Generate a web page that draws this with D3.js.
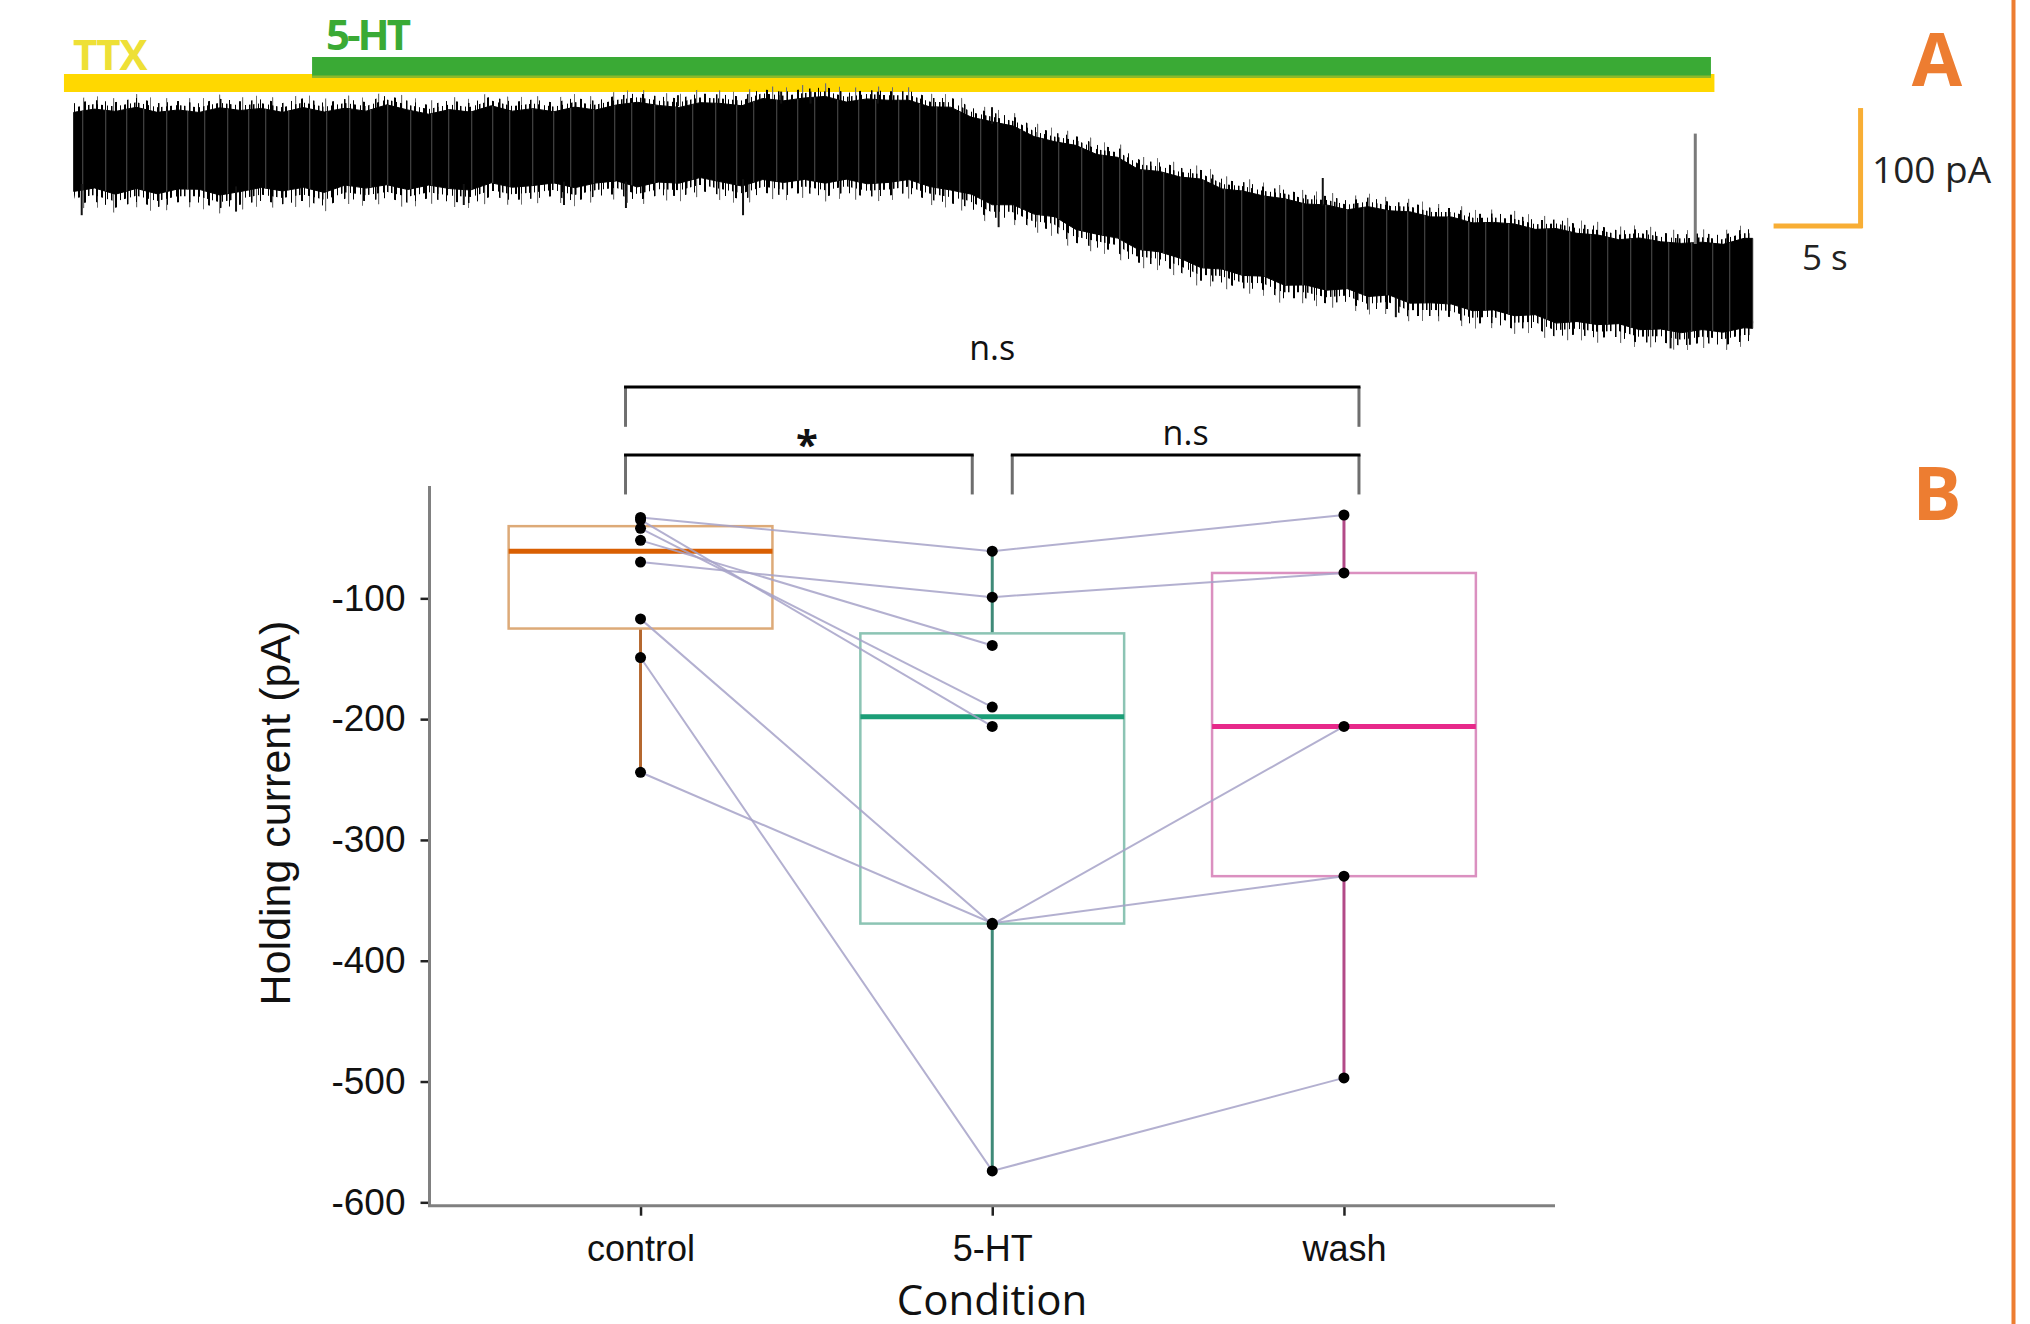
<!DOCTYPE html>
<html>
<head>
<meta charset="utf-8">
<script src="https://cdn.jsdelivr.net/npm/d3@7"></script>
<style>
  body { margin: 0; background: #fff; }
  svg { display: block; }
</style>
</head>
<body>
<svg id="chart" width="2030" height="1324"></svg>
<script>
// ---------- panel A: holding current trace (envelope) ----------
var traceTime = [0, 1.2, 2.4, 3.6, 4.8, 6, 7.2, 8.4, 9.6, 10.8, 12, 13.2, 14.4, 15.6, 16.8, 18, 19.2, 20.4, 21.6, 22.8,
    24, 25.2, 26.4, 27.6, 28.8, 30, 31.2, 32.4, 33.6, 34.8, 36, 37.2, 38.4, 39.6, 40.8, 42, 43.2, 44.4, 45.6, 46.8,
    48, 49.2, 50.4, 51.6, 52.8, 54, 55.2, 56.4, 57.6, 58.8, 60, 61.2, 62.4, 63.6, 64.8, 66, 67.2, 68.4, 69.6, 70.8,
    72, 73.2, 74.4, 75.6, 76.8, 78, 79.2, 80.4, 81.6, 82.8, 84, 85.2, 86.4, 87.6, 88.8, 90, 91.2, 92.4, 93.6, 94.8,
    96, 96.5];
var traceUpper = [-10.3, -7.6, -9.5, -6.1, -10.3, -8.3, -10.4, -6.5, -8.7, -7,
    -10.3, -6.3, -10, -6.8, -9.3, -4, -8.3, -11.8, -8, -10.1,
    -4.8, -9.3, -7.2, -9.8, -5.9, -8.3, -4.1, -1.9, -4.5, -6.2,
    -2.2, -2.9, -4.8, 1.3, -0.7, 1.7, 3, -1.7, 0.9, -0.2,
    -0.2, -5.7, -6, -14.4, -18.2, -21.7, -30.5, -34.8, -37.8, -45.4,
    -47.8, -57.9, -59.5, -64.2, -65.9, -74.1, -75.9, -80, -82.3, -86.7,
    -87.4, -91.5, -88.9, -92.3, -93.2, -97.4, -97.5, -102.4, -102, -103.3,
    -107.8, -107.1, -111.1, -112.5, -116.4, -115, -118.1, -119.5, -118.5, -120.3,
    -115.3, -115.3];
var traceLower = [-76.2, -73.3, -78.5, -73.7, -78.2, -74.1, -74.4, -79.2, -76.2, -72.9,
    -75.8, -72.8, -77, -70.9, -73.4, -70.6, -74.6, -70.9, -73.8, -75,
    -69, -72.7, -71.3, -69.1, -73.1, -69.2, -67.4, -72.4, -68.4, -69.3,
    -64.6, -68.2, -71.7, -66.3, -68.7, -66.2, -69.3, -66, -69.8, -68.7,
    -66.3, -72.1, -75, -78.5, -87.3, -87.3, -95.1, -97.3, -107.9, -111.8,
    -115.1, -124.6, -126.5, -131.9, -139.8, -140.9, -146.2, -146.8, -154.4, -154.1,
    -158.5, -157.2, -163.8, -162.4, -169.3, -169, -170.1, -175.6, -174.9, -179.8,
    -178.9, -185.9, -184.6, -187.2, -186.4, -191.4, -190.8, -193.9, -191.3, -193.5,
    -189.8, -190.3];

// single events poking out of the band
var spikeTime = [0.46, 9.33, 22.42, 28.18, 31.74, 38.47, 34.73, 40.66, 42.35, 46.22, 53.16, 52.78, 71.79, 75.99, 91.78, 92.89];
var spikeFrom = [-70, -72, -70, -68, -68, -66, -5, -3, -3, -3, -88, -20, -88, -165, -192, -192];
var spikeTo = [-96, -93, -87.5, -87.5, -90, -96, 4, 7, 7, 7, -106, -6, -65, -181, -207, -204];
var bigSpike = { t: 93.2, from: -120, to: -28 };

// drug application bars (s)
var drugNames = ["TTX", "5-HT"];
var drugStart = [-0.56, 13.7];
var drugEnd = [94.3, 94.1];

// scale bar: 5 s, 100 pA
var scaleBarTime = [97.7, 102.7];
var scaleBarCurrent = [-6.7, -106.7];

// ---------- panel B: paired holding currents (pA), one entry per cell ----------
var conditions = ["control", "5-HT", "wash"];
var controlValues = [-33, -35, -42, -52, -70, -117, -149, -244];
var serotoninValues = [-61, -206, -190, -139, -99, -370, -574, -369];
var washValues = [-31, null, null, null, -79, -206, -497, -330];
var yTicks = [-100, -200, -300, -400, -500, -600];

var compFrom = ["control", "control", "5-HT"];
var compTo = ["wash", "5-HT", "wash"];
var compLabel = ["n.s", "*", "n.s"];
var compLevel = [75, 18.6, 18.6];
var compFoot = [42, -14, -14];

var svg = d3.select("#chart");
svg.append("rect").attr("width", 2030).attr("height", 1324).attr("fill", "#fff");

var sans = "'Open Sans', 'DejaVu Sans', sans-serif";
var arial = "'Liberation Sans', Arial, sans-serif";

// vertical hatch patterns used to texture the noisy trace
var defs = svg.append("defs");
function hatch(id, period, stripes, color) {
    var p = defs.append("pattern")
        .attr("id", id)
        .attr("patternUnits", "userSpaceOnUse")
        .attr("width", period).attr("height", 1324);
    stripes.forEach(function (s) {
        p.append("rect").attr("x", s[0]).attr("y", 0)
            .attr("width", s[1]).attr("height", 1324).attr("fill", color);
    });
}
hatch("hairA", 23, [[0, 1.5], [5, 1], [9, 2], [15, 1], [19, 1.5]], "#000");
hatch("hairB", 31, [[3, 1.5], [12, 1], [22, 2]], "#000");
hatch("hairC", 53, [[7, 1.2], [30, 1.2], [44, 1]], "#6f6f6f");
hatch("sweep", 61, [[4, 1.3], [21, 1.3], [44, 1.3]], "#4d4d4d");

// ===== panel A =====
var xT = d3.scaleLinear().domain([0, 96.5]).range([73.7, 1752.7]);
var yT = d3.scaleLinear().domain([0, -100]).range([100, 220]);

var barColors = ["#FFD800", "#3AAA35"];
var barY = [74, 57], barH = [18, 20];
drugNames.forEach(function (name, i) {
    svg.append("rect")
        .attr("x", xT(drugStart[i]))
        .attr("y", barY[i])
        .attr("width", xT(drugEnd[i]) - xT(drugStart[i]))
        .attr("height", barH[i])
        .attr("fill", barColors[i]);
});
svg.append("rect")
    .attr("x", xT(drugStart[1])).attr("y", 75.5)
    .attr("width", xT(drugEnd[1]) - xT(drugStart[1])).attr("height", 2.5)
    .attr("fill", "#8DB92B");
svg.append("text").attr("x", xT(drugStart[0]) + 9).attr("y", 70)
    .attr("font-family", sans).attr("font-weight", 700).attr("font-size", 42)
    .attr("letter-spacing", -1).attr("fill", "#EEE036").text(drugNames[0]);
svg.append("text").attr("x", xT(drugStart[1]) + 14).attr("y", 50)
    .attr("font-family", sans).attr("font-weight", 700).attr("font-size", 42)
    .attr("letter-spacing", -3).attr("fill", "#3AAA35").text(drugNames[1]);

var traceData = traceTime.map(function (t, i) {
    return { t: t, hi: traceUpper[i], lo: traceLower[i] };
});
var area = d3.area()
    .x(function (d) { return xT(d.t); })
    .y0(function (d) { return yT(d.lo); })
    .y1(function (d) { return yT(d.hi); });
var edgeTop = d3.line()
    .x(function (d) { return xT(d.t); })
    .y(function (d) { return yT(d.hi); });
var edgeBottom = d3.line()
    .x(function (d) { return xT(d.t); })
    .y(function (d) { return yT(d.lo); });

var gTrace = svg.append("g");
// noise fringe: vertical hairs along both edges
function fringe(gen, pat, w) {
    gTrace.append("path").datum(traceData).attr("d", gen)
        .attr("fill", "none").attr("stroke", "url(#" + pat + ")").attr("stroke-width", w);
}
fringe(edgeTop, "hairC", 26);
fringe(edgeBottom, "hairC", 36);
fringe(edgeTop, "hairB", 18);
fringe(edgeBottom, "hairB", 26);
fringe(edgeTop, "hairA", 10);
fringe(edgeBottom, "hairA", 14);

gTrace.append("path").datum(traceData)
    .attr("d", area)
    .attr("fill", "#000")
    .attr("stroke", "#000")
    .attr("stroke-width", 1);
// lighter sweeps inside the band
gTrace.append("path").datum(traceData)
    .attr("d", area)
    .attr("fill", "url(#sweep)")
    .attr("transform", "translate(0,0)")
    .attr("opacity", 0.8);

gTrace.selectAll(".spike")
    .data(spikeTime)
    .enter().append("line")
    .attr("x1", function (d) { return xT(d); })
    .attr("x2", function (d) { return xT(d); })
    .attr("y1", function (d, i) { return yT(spikeFrom[i]); })
    .attr("y2", function (d, i) { return yT(spikeTo[i]); })
    .attr("stroke", "#111")
    .attr("stroke-width", 2);

gTrace.append("line")
    .attr("x1", xT(bigSpike.t)).attr("x2", xT(bigSpike.t))
    .attr("y1", yT(bigSpike.from)).attr("y2", yT(bigSpike.to))
    .attr("stroke", "#7a7a7a").attr("stroke-width", 3);

// scale bar
var barColor = "#F8AE35";
svg.append("line")
    .attr("x1", xT(scaleBarTime[0])).attr("x2", xT(scaleBarTime[1]) + 2)
    .attr("y1", yT(scaleBarCurrent[1]) - 2).attr("y2", yT(scaleBarCurrent[1]) - 2)
    .attr("stroke", barColor).attr("stroke-width", 5);
svg.append("line")
    .attr("x1", xT(scaleBarTime[1])).attr("x2", xT(scaleBarTime[1]))
    .attr("y1", yT(scaleBarCurrent[0])).attr("y2", yT(scaleBarCurrent[1]))
    .attr("stroke", barColor).attr("stroke-width", 5);
svg.append("text").attr("x", 1872).attr("y", 183)
    .attr("font-family", sans).attr("font-size", 37).attr("fill", "#222").text("100 pA");
svg.append("text").attr("x", 1802).attr("y", 270)
    .attr("font-family", sans).attr("font-size", 35).attr("fill", "#222").text("5 s");

// panel letters and frame line
svg.append("line").attr("x1", 2013.5).attr("x2", 2013.5).attr("y1", 0).attr("y2", 1324)
    .attr("stroke", "#ED7D31").attr("stroke-width", 4);
[["A", 86], ["B", 520]].forEach(function (p) {
    svg.append("text").attr("x", 1937).attr("y", p[1])
        .attr("text-anchor", "middle")
        .attr("font-family", sans).attr("font-weight", 700).attr("font-size", 73)
        .attr("fill", "#ED7D31").text(p[0]);
});

// ===== panel B =====
var x = d3.scalePoint().domain(conditions).range([429.5, 1555]).padding(0.6);
var y = d3.scaleLinear().domain([-602.8, -7]).range([1205.7, 486]);

var gy = svg.append("g")
    .attr("transform", "translate(429.5,0)")
    .call(d3.axisLeft(y).tickValues(yTicks).tickSize(9).tickPadding(15)
        .tickFormat(function (d) { return String(d); }));
gy.select(".domain").remove();
gy.selectAll(".tick line").attr("stroke", "#222").attr("stroke-width", 2.5);
gy.selectAll(".tick text").attr("font-family", arial).attr("font-size", 37).attr("fill", "#111");

var gx = svg.append("g")
    .attr("transform", "translate(0,1205.7)")
    .call(d3.axisBottom(x).tickSize(10).tickPadding(20));
gx.select(".domain").remove();
gx.selectAll(".tick line").attr("stroke", "#222").attr("stroke-width", 2.5);
gx.selectAll(".tick text").attr("font-family", arial).attr("font-size", 36).attr("fill", "#111");

svg.append("line").attr("x1", 429.5).attr("x2", 429.5).attr("y1", 486).attr("y2", 1207)
    .attr("stroke", "#808080").attr("stroke-width", 3);
svg.append("line").attr("x1", 428).attr("x2", 1555).attr("y1", 1205.7).attr("y2", 1205.7)
    .attr("stroke", "#808080").attr("stroke-width", 3);

svg.append("text")
    .attr("transform", "rotate(-90)")
    .attr("x", -813).attr("y", 290)
    .attr("text-anchor", "middle")
    .attr("font-family", arial).attr("font-size", 43).attr("fill", "#111")
    .text("Holding current (pA)");
svg.append("text")
    .attr("x", 992).attr("y", 1315)
    .attr("text-anchor", "middle")
    .attr("font-family", sans).attr("font-size", 42).attr("fill", "#111")
    .text("Condition");

// boxplots
var series = [controlValues, serotoninValues, washValues];
var medianColors = ["#D95F02", "#1B9E77", "#E7298A"];
var boxColors = ["#DDAA78", "#8CC4B4", "#DB90C0"];
var whiskerColors = ["#B5682F", "#3F8A78", "#B24A88"];
var bw = x.step() * 0.75;

series.forEach(function (vals, i) {
    var s = vals.filter(function (v) { return v !== null; }).sort(d3.ascending);
    var q1 = d3.quantile(s, 0.25), med = d3.quantile(s, 0.5), q3 = d3.quantile(s, 0.75);
    var iqr = q3 - q1;
    var lo = d3.min(s.filter(function (v) { return v >= q1 - 1.5 * iqr; }));
    var hi = d3.max(s.filter(function (v) { return v <= q3 + 1.5 * iqr; }));
    var cx = x(conditions[i]);
    var g = svg.append("g");
    g.append("line").attr("x1", cx).attr("x2", cx).attr("y1", y(q3)).attr("y2", y(hi))
        .attr("stroke", whiskerColors[i]).attr("stroke-width", 3);
    g.append("line").attr("x1", cx).attr("x2", cx).attr("y1", y(q1)).attr("y2", y(lo))
        .attr("stroke", whiskerColors[i]).attr("stroke-width", 3);
    g.append("rect")
        .attr("x", cx - bw / 2).attr("y", y(q3))
        .attr("width", bw).attr("height", y(q1) - y(q3))
        .attr("fill", "none").attr("stroke", boxColors[i]).attr("stroke-width", 2.5);
    g.append("line").attr("x1", cx - bw / 2).attr("x2", cx + bw / 2)
        .attr("y1", y(med)).attr("y2", y(med))
        .attr("stroke", medianColors[i]).attr("stroke-width", 5);
});

// paired lines per cell
var cells = controlValues.map(function (v, k) {
    return conditions.map(function (c, j) {
        return { c: c, v: series[j][k] };
    }).filter(function (d) { return d.v !== null; });
});
var line = d3.line()
    .x(function (d) { return x(d.c); })
    .y(function (d) { return y(d.v); });
svg.selectAll(".pair")
    .data(cells)
    .enter().append("path")
    .attr("d", line)
    .attr("fill", "none")
    .attr("stroke", "#a6a2c8")
    .attr("stroke-width", 2)
    .attr("opacity", 0.85);

// points
var pts = [];
cells.forEach(function (cell) { cell.forEach(function (d) { pts.push(d); }); });
svg.selectAll(".pt")
    .data(pts)
    .enter().append("circle")
    .attr("cx", function (d) { return x(d.c); })
    .attr("cy", function (d) { return y(d.v); })
    .attr("r", 5.5)
    .attr("fill", "#000");

// significance brackets
compFrom.forEach(function (f, i) {
    var x0 = x(f) + (f === "5-HT" ? 20 : -15);
    var x1 = x(compTo[i]) + (compTo[i] === "5-HT" ? -20 : 15);
    var yl = y(compLevel[i]), yf = y(compFoot[i]);
    svg.append("line").attr("x1", x0).attr("x2", x0).attr("y1", yl).attr("y2", yf)
        .attr("stroke", "#6e6e6e").attr("stroke-width", 3);
    svg.append("line").attr("x1", x1).attr("x2", x1).attr("y1", yl).attr("y2", yf)
        .attr("stroke", "#6e6e6e").attr("stroke-width", 3);
    svg.append("line").attr("x1", x0 - 1.5).attr("x2", x1 + 1.5).attr("y1", yl).attr("y2", yl)
        .attr("stroke", "#000").attr("stroke-width", 3);
    var star = compLabel[i] === "*";
    svg.append("text")
        .attr("x", (x0 + x1) / 2 + (star ? 8 : 0))
        .attr("y", star ? yl + 4 : yl - (compLevel[i] > 50 ? 27 : 10))
        .attr("text-anchor", "middle")
        .attr("font-family", sans)
        .attr("font-weight", star ? 700 : 400)
        .attr("font-size", star ? 40 : 34)
        .attr("fill", "#111")
        .text(compLabel[i]);
});
</script>
</body>
</html>
